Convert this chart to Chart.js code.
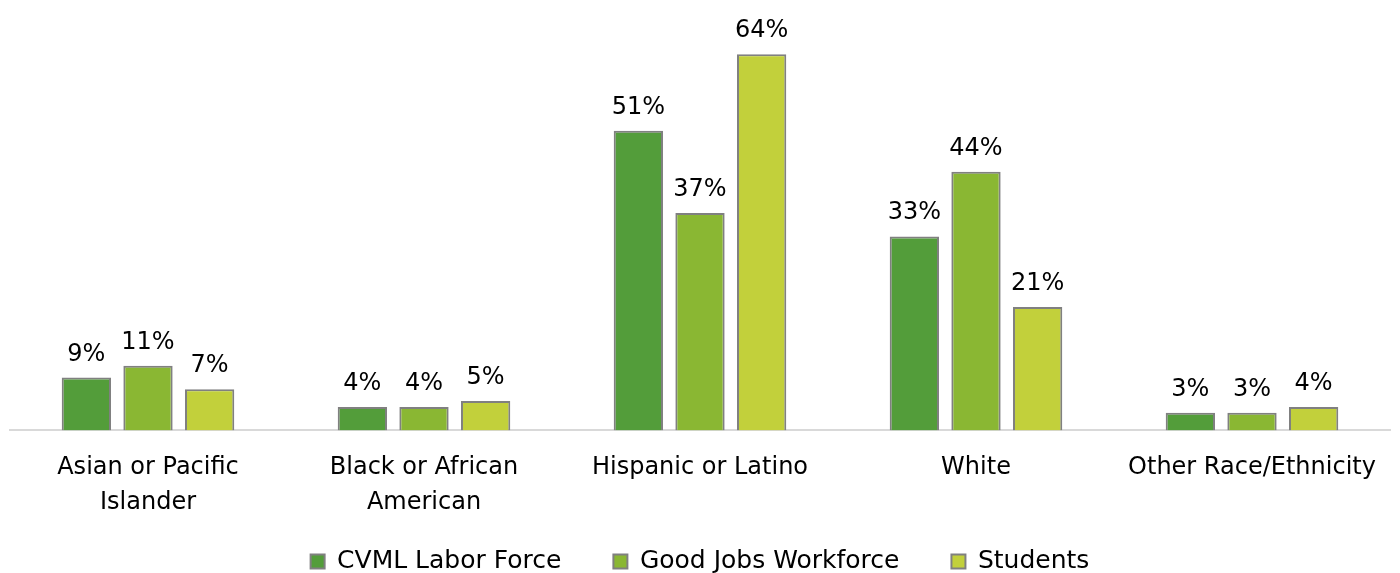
<!DOCTYPE html>
<html>
<head>
<meta charset="utf-8">
<script src="https://cdn.jsdelivr.net/npm/chart.js@4"></script>
<style>
  html, body { margin: 0; padding: 0; background: #fff; }
  #wrap { width: 1400px; height: 573px; }
</style>
</head>
<body>
<div id="wrap"><canvas id="chart"></canvas></div>
<script>
const categories = [
  ["Asian or Pacific", "Islander"],
  ["Black or African", "American"],
  "Hispanic or Latino",
  "White",
  "Other Race/Ethnicity"
];
const seriesNames = ["CVML Labor Force", "Good Jobs Workforce", "Students"];
const laborForce = [9, 4, 51, 33, 3];
const goodJobs = [11, 4, 37, 44, 3];
const students = [7, 5, 64, 21, 4];
const barColors = ["#539D3A", "#8AB733", "#C2D03B"];

const FONT = "'DejaVu Sans', sans-serif";

// labels above each bar
const valueLabels = {
  id: "valueLabels",
  afterDatasetsDraw(chart) {
    const ctx = chart.ctx;
    ctx.save();
    ctx.font = "24px " + FONT;
    ctx.fillStyle = "#000";
    ctx.textAlign = "center";
    ctx.textBaseline = "alphabetic";
    chart.data.datasets.forEach((ds, i) => {
      chart.getDatasetMeta(i).data.forEach((bar, j) => {
        ctx.fillText(ds.data[j] + "%", bar.x, bar.y - 17);
      });
    });
    ctx.restore();
  }
};

// legend padding is wide for item spacing; pull the row up a bit
const legendShift = {
  id: "legendShift",
  afterLayout(chart) {
    const lg = chart.legend;
    if (!lg) return;
    lg.top -= 35;
    lg.bottom -= 35;
  }
};

const series = [laborForce, goodJobs, students];

new Chart(document.getElementById("chart"), {
  type: "bar",
  data: {
    labels: categories,
    datasets: series.map((d, i) => ({
      label: seriesNames[i],
      data: d,
      backgroundColor: barColors[i],
      borderColor: "#808080",
      borderWidth: 2,
      barPercentage: 0.8,
      categoryPercentage: 0.67
    }))
  },
  options: {
    responsive: true,
    maintainAspectRatio: false,
    animation: false,
    layout: { padding: { top: 19, left: 10, right: 10, bottom: -46 } },
    scales: {
      y: { display: false, min: 0, max: 70 },
      x: {
        grid: { display: false },
        border: { display: true, color: "#D9D9D9", width: 2 },
        ticks: {
          color: "#000",
          padding: 12,
          font: { family: FONT, size: 24, lineHeight: 1.45 },
          maxRotation: 0,
          autoSkip: false
        }
      }
    },
    plugins: {
      legend: {
        position: "bottom",
        labels: {
          color: "#000",
          boxWidth: 14,
          boxHeight: 14,
          padding: 52,
          font: { family: FONT, size: 25 }
        }
      },
      tooltip: { enabled: false }
    }
  },
  plugins: [valueLabels, legendShift]
});
</script>
</body>
</html>
